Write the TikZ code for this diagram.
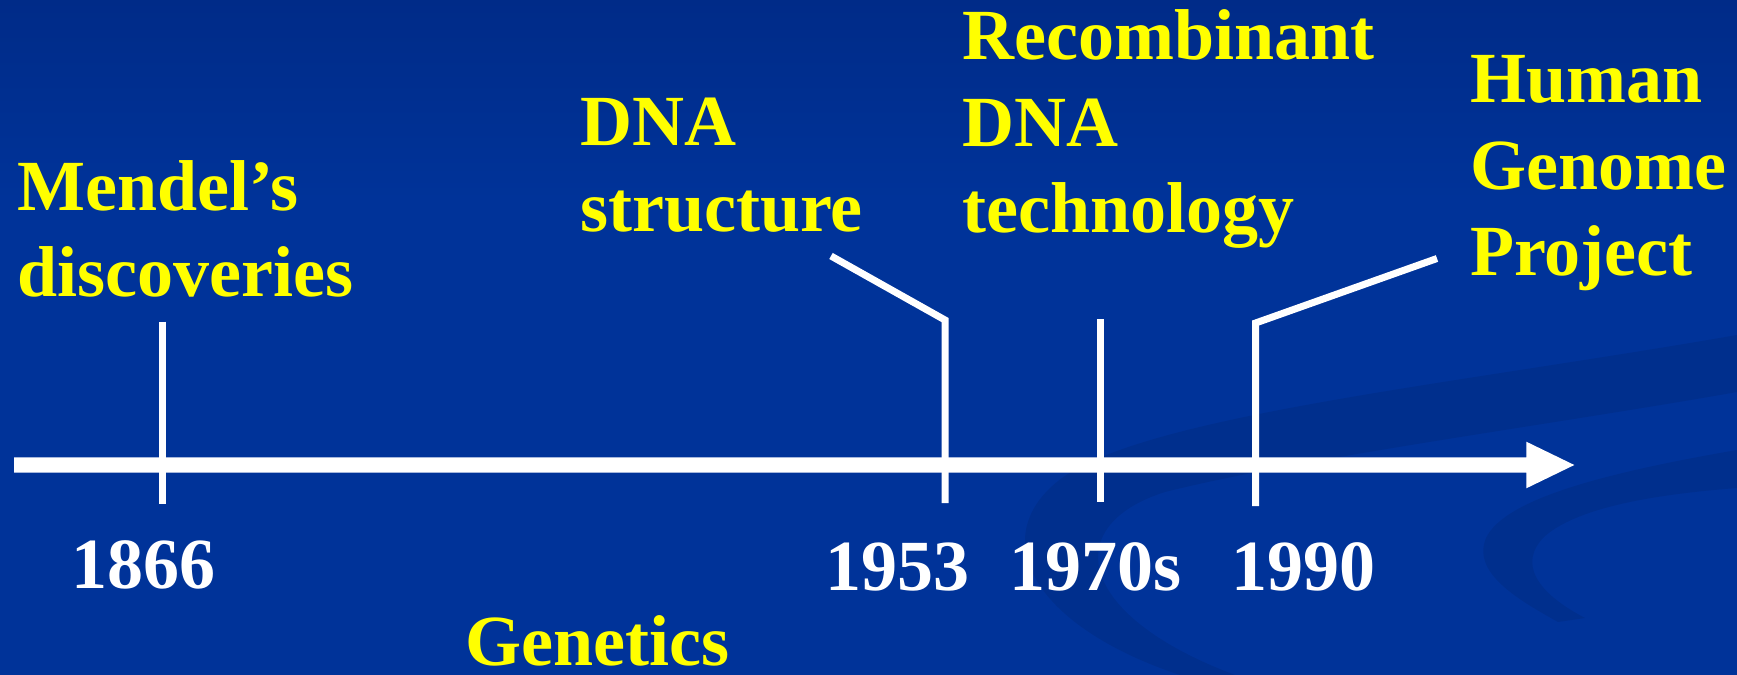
\documentclass[tikz,border=0pt]{standalone}
\usepackage{fontspec}
\setmainfont{Liberation Serif}
\usetikzlibrary{calc}
\definecolor{slideblue}{RGB}{0,51,153}
\definecolor{slidetop}{RGB}{0,43,136}
\definecolor{labelyellow}{RGB}{255,255,0}
\tikzset{
  event/.style={text=labelyellow, font=\bfseries\fontsize{72bp}{86.4bp}\selectfont,
    align=left, anchor=base west, inner sep=0pt},
  yearlabel/.style={text=white, font=\bfseries\fontsize{72bp}{86.4bp}\selectfont,
    anchor=base west, inner sep=0pt},
  tickline/.style={draw=white, line width=7bp, line join=miter, line cap=butt},
  swoosh/.style={fill=black, fill opacity=0.08, draw=none},
}
\begin{document}
\begin{tikzpicture}[x=1bp, y=-1bp]
  % background with a darker band at the top
  \useasboundingbox (0,0) rectangle (1737,675);
  \fill[slideblue] (0,0) rectangle (1737,675);
  \shade[top color=slidetop, bottom color=slideblue] (0,0) rectangle (1737,200);

  % decorative swooshes, lower right
  \path[swoosh] (1737,335) .. controls (1450,385) and (1150,415) .. (1062,478)
       .. controls (985,535) and (1030,625) .. (1180,675) -- (1235,675)
       .. controls (1075,615) and (1060,525) .. (1165,492)
       .. controls (1300,458) and (1550,425) .. (1737,392) -- cycle;
  \path[swoosh] (1737,450) .. controls (1610,472) and (1505,498) .. (1486,538)
       .. controls (1472,572) and (1515,598) .. (1558,622) -- (1585,618)
       .. controls (1535,592) and (1518,562) .. (1545,536)
       .. controls (1580,506) and (1660,494) .. (1737,488) -- cycle;

  % time axis
  \coordinate (axisL) at (14,465);
  \coordinate (axisR) at (1574.3,465);
  \fill[white] ($(axisL)+(0,-7.7)$) -- (1526.3,457.3) -- (1526.3,441.7) -- (axisR)
     -- (1526.3,488.3) -- (1526.3,472.7) -- ($(axisL)+(0,7.7)$) -- cycle;

  % ticks and leader lines
  \coordinate (m1866top) at (162,321.5);
  \coordinate (m1866bot) at (162,504);
  \coordinate (m1953lead) at (831,256);
  \coordinate (m1953bend) at (945,320);
  \coordinate (m1953bot) at (945,503);
  \coordinate (m1970top) at (1100,319.3);
  \coordinate (m1970bot) at (1100,502.3);
  \coordinate (m1990lead) at (1437,258.5);
  \coordinate (m1990bend) at (1255.6,323);
  \coordinate (m1990bot) at (1255.6,506);

  \draw[tickline] (m1866top) -- (m1866bot);
  \draw[tickline] (m1953lead) -- (m1953bend) -- (m1953bot);
  \draw[tickline] (m1970top) -- (m1970bot);
  \draw[tickline] (m1990lead) -- (m1990bend) -- (m1990bot);

  % event labels (anchored at the baseline of their last line)
  \node[event] (mendel) at (17,296.7) {Mendel’s\\discoveries};
  \node[event] (dna) at (580,231.7) {DNA\\structure};
  \node[event] (recomb) at (962,232.5) {Recombinant\\DNA\\technology};
  \node[event] (hgp) at (1470,275.5) {Human\\Genome\\Project};

  % year labels
  \node[yearlabel] (y1866) at (71,588.3) {1866};
  \node[yearlabel] (y1953) at (825,590) {1953};
  \node[yearlabel] (y1970) at (1009.5,590) {1970s};
  \node[yearlabel] (y1990) at (1231,590) {1990};

  % field title
  \node[event] (genetics) at (465.6,665) {Genetics};
\end{tikzpicture}
\end{document}
